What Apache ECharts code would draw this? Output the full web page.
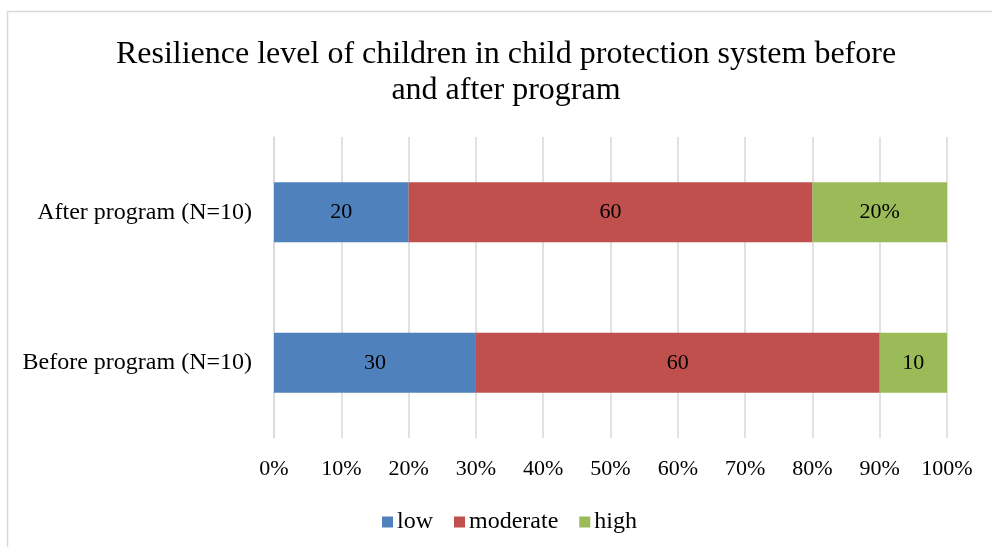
<!DOCTYPE html>
<html>
<head>
<meta charset="utf-8">
<script src="https://cdn.jsdelivr.net/npm/echarts@6/dist/echarts.min.js"></script>
<style>
  html, body { margin: 0; padding: 0; background: #fff; }
  #chart { width: 992px; height: 547px; }
</style>
</head>
<body>
<div id="chart"></div>
<script>
// Groups, bottom to top on the category axis
const categories = ['Before program (N=10)', 'After program (N=10)'];
const seriesNames = ['low', 'moderate', 'high'];
const lowValues = [30, 20];
const moderateValues = [60, 60];
const highValues = [10, 20];
// Text shown inside each segment
const lowLabels = ['30', '20'];
const moderateLabels = ['60', '60'];
const highLabels = ['10', '20%'];
const tickValues = [0, 10, 20, 30, 40, 50, 60, 70, 80, 90, 100];

const colors = ['#4F81BD', '#C0504D', '#9BBB59'];
const serif = '"Liberation Serif", "Times New Roman", serif';

function makeSeries(name, values, labels, color) {
  return {
    name: name,
    type: 'bar',
    stack: 'total',
    barWidth: 60,
    data: values,
    itemStyle: { color: color },
    label: {
      show: true,
      position: 'inside',
      color: '#000',
      fontFamily: serif,
      fontSize: 22,
      formatter: p => labels[p.dataIndex]
    }
  };
}

const chart = echarts.init(document.getElementById('chart'));
chart.setOption({
  animation: false,
  backgroundColor: '#fff',
  graphic: [{
    type: 'rect',
    shape: { x: 7.5, y: 11.5, width: 1000, height: 600 },
    style: { fill: 'none', stroke: '#D9D9D9', lineWidth: 1.5 },
    silent: true,
    z: -10
  }],
  title: {
    text: 'Resilience level of children in child protection system before\nand after program',
    left: 501,
    textAlign: 'center',
    top: 32,
    textStyle: {
      fontFamily: serif,
      fontWeight: 'normal',
      fontSize: 32,
      lineHeight: 36,
      color: '#000'
    }
  },
  legend: {
    top: 505,
    left: 377,
    icon: 'rect',
    itemWidth: 11,
    itemHeight: 11,
    itemGap: 21,
    data: seriesNames,
    textStyle: { fontFamily: serif, fontSize: 24, color: '#000', padding: [0, 0, 0, -1] }
  },
  grid: { left: 274, right: 45, top: 137, bottom: 109, containLabel: false },
  xAxis: {
    type: 'value',
    min: 0,
    max: 100,
    interval: 10,
    axisLine: { show: false },
    axisTick: { show: false },
    splitLine: { show: true, lineStyle: { color: '#D9D9D9', width: 1.5 } },
    axisLabel: {
      margin: 20,
      fontFamily: serif,
      fontSize: 22,
      color: '#000',
      formatter: v => tickValues.includes(v) ? v + '%' : ''
    }
  },
  yAxis: {
    type: 'category',
    data: categories,
    axisLine: { show: true, lineStyle: { color: '#D9D9D9', width: 1.5 } },
    axisTick: { show: false },
    axisLabel: {
      margin: 22,
      fontFamily: serif,
      fontSize: 24,
      color: '#000'
    }
  },
  series: [
    makeSeries(seriesNames[0], lowValues, lowLabels, colors[0]),
    makeSeries(seriesNames[1], moderateValues, moderateLabels, colors[1]),
    makeSeries(seriesNames[2], highValues, highLabels, colors[2])
  ]
});
</script>
</body>
</html>
